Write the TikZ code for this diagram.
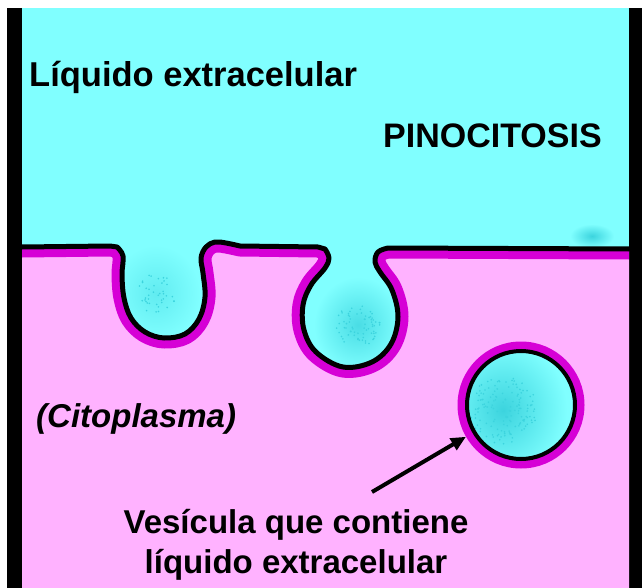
\documentclass[tikz,border=0pt]{standalone}
\usepackage{fontspec}
\setmainfont{Liberation Sans}
\usetikzlibrary{arrows.meta}
\definecolor{liquid}{RGB}{128,255,255}
\definecolor{cyto}{RGB}{255,178,255}
\definecolor{lipid}{RGB}{214,0,214}
\definecolor{speck}{RGB}{60,212,222}

% cell membrane: flat surface with two invaginations
\def\membrane{(22,247) -- (110,246) -- plot[smooth, tension=0.6] coordinates {(117,247) (123,256) (122,275) (124,298) (131,318) (145,332) (164,338) (185,334) (199,319) (205,297) (203,273) (201,258) (206,247) (215,242) (226,243) (240,246)} -- (318,247) -- plot[smooth, tension=0.6] coordinates {(325,249) (329,258) (325,268) (311,285) (303,305) (304,330) (316,352) (343,367) (372,362) (391,344) (398,317) (392,290) (380,272) (375,262) (378,252) (388,248)} -- (629,249)}

% speckled patch of darker liquid: centre x, centre y, spread, number of dots
\newcommand\specks[4]{%
  \foreach \k in {1,...,#4}{%
    \pgfmathsetmacro{\ang}{rnd*360}%
    \pgfmathsetmacro{\rad}{sqrt(rnd)*#3}%
    \fill[speck, shift={(#1,#2)}] (\ang:\rad) circle [radius=0.9pt];
  }}

\begin{document}
\begin{tikzpicture}[x=1pt, y=-1pt,
  caption/.style={inner sep=0pt, font=\bfseries\fontsize{34}{40}\selectfont},
  ring/.style={circle, draw=lipid, line width=10pt, minimum size=117pt, inner sep=0pt},
  pointer/.style={line width=4pt, -{Triangle[length=15pt, width=13pt]}}]
\pgfmathsetseed{42}
\useasboundingbox (0,0) rectangle (642,588);
\fill[white] (0,0) rectangle (642,588);
\fill[black] (7,8) rectangle (22,588);
\fill[black] (629,8) rectangle (642,588);

% extracellular liquid
\fill[liquid] (22,8) rectangle (629,588);
\shade[inner color=speck!45!liquid, outer color=liquid] (156,293) ellipse [x radius=44pt, y radius=48pt];
\specks{156}{293}{20}{40}
\shade[inner color=speck!80!liquid, outer color=liquid] (358,325) ellipse [x radius=44pt, y radius=48pt];
\specks{358}{325}{22}{70}
\shade[inner color=speck, outer color=liquid] (592,236) ellipse [x radius=22pt, y radius=12pt];

% cytoplasm
\fill[cyto] \membrane -- (629,588) -- (22,588) -- cycle;
\begin{scope}
  \clip \membrane -- (629,588) -- (22,588) -- cycle;
  \draw[lipid, line width=21pt, line join=round] \membrane;
\end{scope}
\draw[black, line width=5pt, line join=round, line cap=round] \membrane;

% free vesicle
\node[ring] (ves) at (521,405) {};
\fill[liquid] (ves.center) circle [radius=54pt];
\begin{scope}
  \clip (ves.center) circle [radius=54pt];
  \shade[inner color=speck, outer color=liquid] (503,410) ellipse [x radius=64pt, y radius=70pt];
  \specks{503}{410}{34}{150}
\end{scope}
\draw[black, line width=4pt] (ves.center) circle [radius=54pt];

% labels
\node[caption, font=\bfseries\fontsize{34.5}{40}\selectfont, anchor=base west] (liq) at (29,87) {Líquido extracelular};
\node[caption, anchor=base west] (pino) at (383,148) {PINOCITOSIS};
\node[caption, font=\bfseries\itshape\fontsize{33}{40}\selectfont, anchor=base west] (cito) at (36,427) {(Citoplasma)};
\node[caption, font=\bfseries\fontsize{33}{40}\selectfont, align=center, anchor=base] (lbl) at (296,573) {Vesícula que contiene\\líquido extracelular};

\coordinate (tail) at (372,492);
\draw[pointer] (tail) -- (ves.210);
\end{tikzpicture}
\end{document}
